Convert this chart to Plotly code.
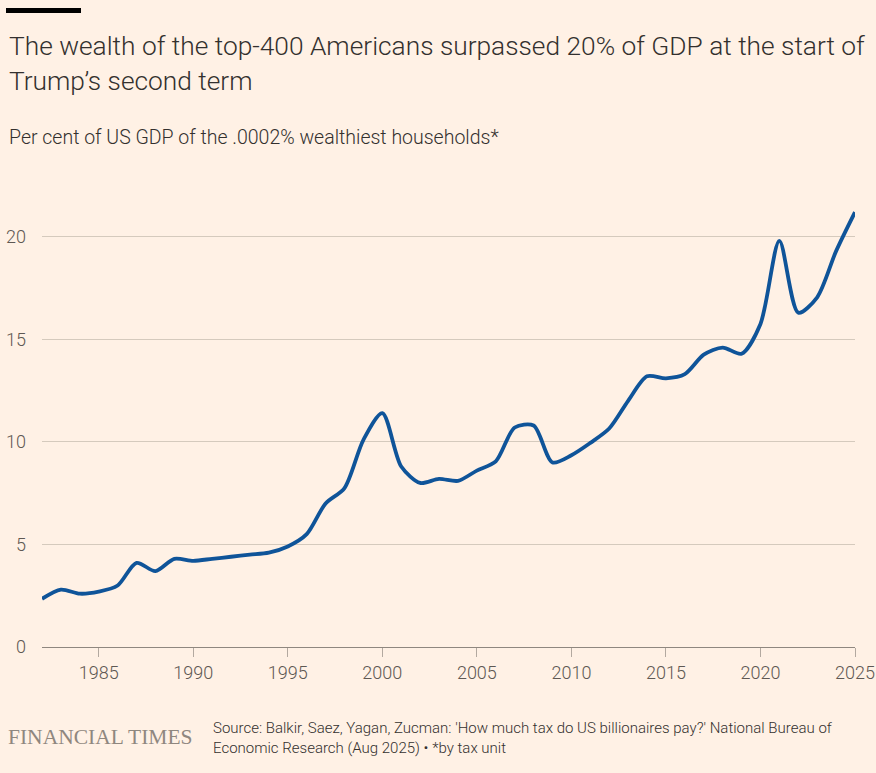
import plotly.graph_objects as go

years = list(range(1982, 2026))
share_gdp = [2.35, 2.8, 2.6, 2.7, 3.0, 4.1, 3.7, 4.3, 4.2, 4.3,
             4.4, 4.5, 4.6, 4.9, 5.5, 7.0, 7.75, 10.1, 11.4, 8.8,
             8.0, 8.2, 8.1, 8.6, 9.05, 10.7, 10.8, 9.0, 9.35, 9.95,
             10.65, 12.0, 13.2, 13.1, 13.3, 14.25, 14.6, 14.3, 15.75, 19.8,
             16.3, 17.05, 19.3, 21.2]

x_ticks = [1985, 1990, 1995, 2000, 2005, 2010, 2015, 2020, 2025]
y_ticks = [0, 5, 10, 15, 20]

bg = "#fff1e5"
font = "Roboto"

# plot area: left 42, right 855, top 206, bottom 647 (px)
L, R, T, B = 42, 21, 206, 126
W, H = 876, 773
pw, ph = W - L - R, H - T - B


def px(x):
    return (x - L) / pw


def py(y):
    return (H - B - y) / ph


fig = go.Figure()
fig.add_trace(go.Scatter(
    x=years, y=share_gdp, mode="lines",
    line=dict(color="#0f5499", width=3.8, shape="spline", smoothing=0.8),
    hoverinfo="x+y", showlegend=False))

fig.update_layout(
    width=W, height=H,
    margin=dict(l=L, r=R, t=T, b=B, autoexpand=False),
    paper_bgcolor=bg, plot_bgcolor=bg,
    font=dict(family=font, color="#66605c", size=18),
    xaxis=dict(range=[1982, 2025], tickvals=x_ticks, showgrid=False,
               showline=True, linecolor="#8f877f", linewidth=1,
               ticks="outside", ticklen=9, tickcolor="#b3a9a0",
               zeroline=False, automargin=False,
               tickfont=dict(size=18, color="#5e5853", weight=300)),
    yaxis=dict(range=[0, 21.5], tickvals=y_ticks, showgrid=True,
               gridcolor="#d5cabd", gridwidth=1, zeroline=False,
               ticks="", ticklabelstandoff=15, automargin=False,
               tickfont=dict(size=18, color="#5e5853", weight=300)),
)

fig.add_shape(type="rect", xref="paper", yref="paper",
              x0=px(6), x1=px(81), y0=py(13), y1=py(8),
              fillcolor="#000000", line_width=0)

ann = [
    (46, "The wealth of the top-400 Americans surpassed 20% of GDP at the start of", 26.3, "#33302e"),
    (81, "Trump’s second term", 26.3, "#33302e"),
    (137, "Per cent of US GDP of the .0002% wealthiest households*", 19.5, "#33302e"),
]
for y, txt, size, col in ann:
    fig.add_annotation(xref="paper", yref="paper", x=px(7), y=py(y),
                       xanchor="left", yanchor="middle", showarrow=False,
                       text=txt, font=dict(size=size, color=col, weight=300))

fig.add_annotation(xref="paper", yref="paper", x=px(6), y=py(737),
                   xanchor="left", yanchor="middle", showarrow=False,
                   text="FINANCIAL TIMES",
                   font=dict(size=21.5, color="#8f877f", family="Liberation Serif"))
fig.add_annotation(xref="paper", yref="paper", x=px(211), y=py(728),
                   xanchor="left", yanchor="middle", showarrow=False,
                   text="Source: Balkir, Saez, Yagan, Zucman: 'How much tax do US billionaires pay?' National Bureau of",
                   font=dict(size=15, color="#33302e", weight=300))
fig.add_annotation(xref="paper", yref="paper", x=px(211), y=py(748),
                   xanchor="left", yanchor="middle", showarrow=False,
                   text="Economic Research (Aug 2025) • *by tax unit",
                   font=dict(size=15, color="#33302e", weight=300))

fig.write_html("out.html", config={"displayModeBar": False},
               post_script="document.body.style.margin='0';"
                           "document.body.style.background='#fff1e5';")
